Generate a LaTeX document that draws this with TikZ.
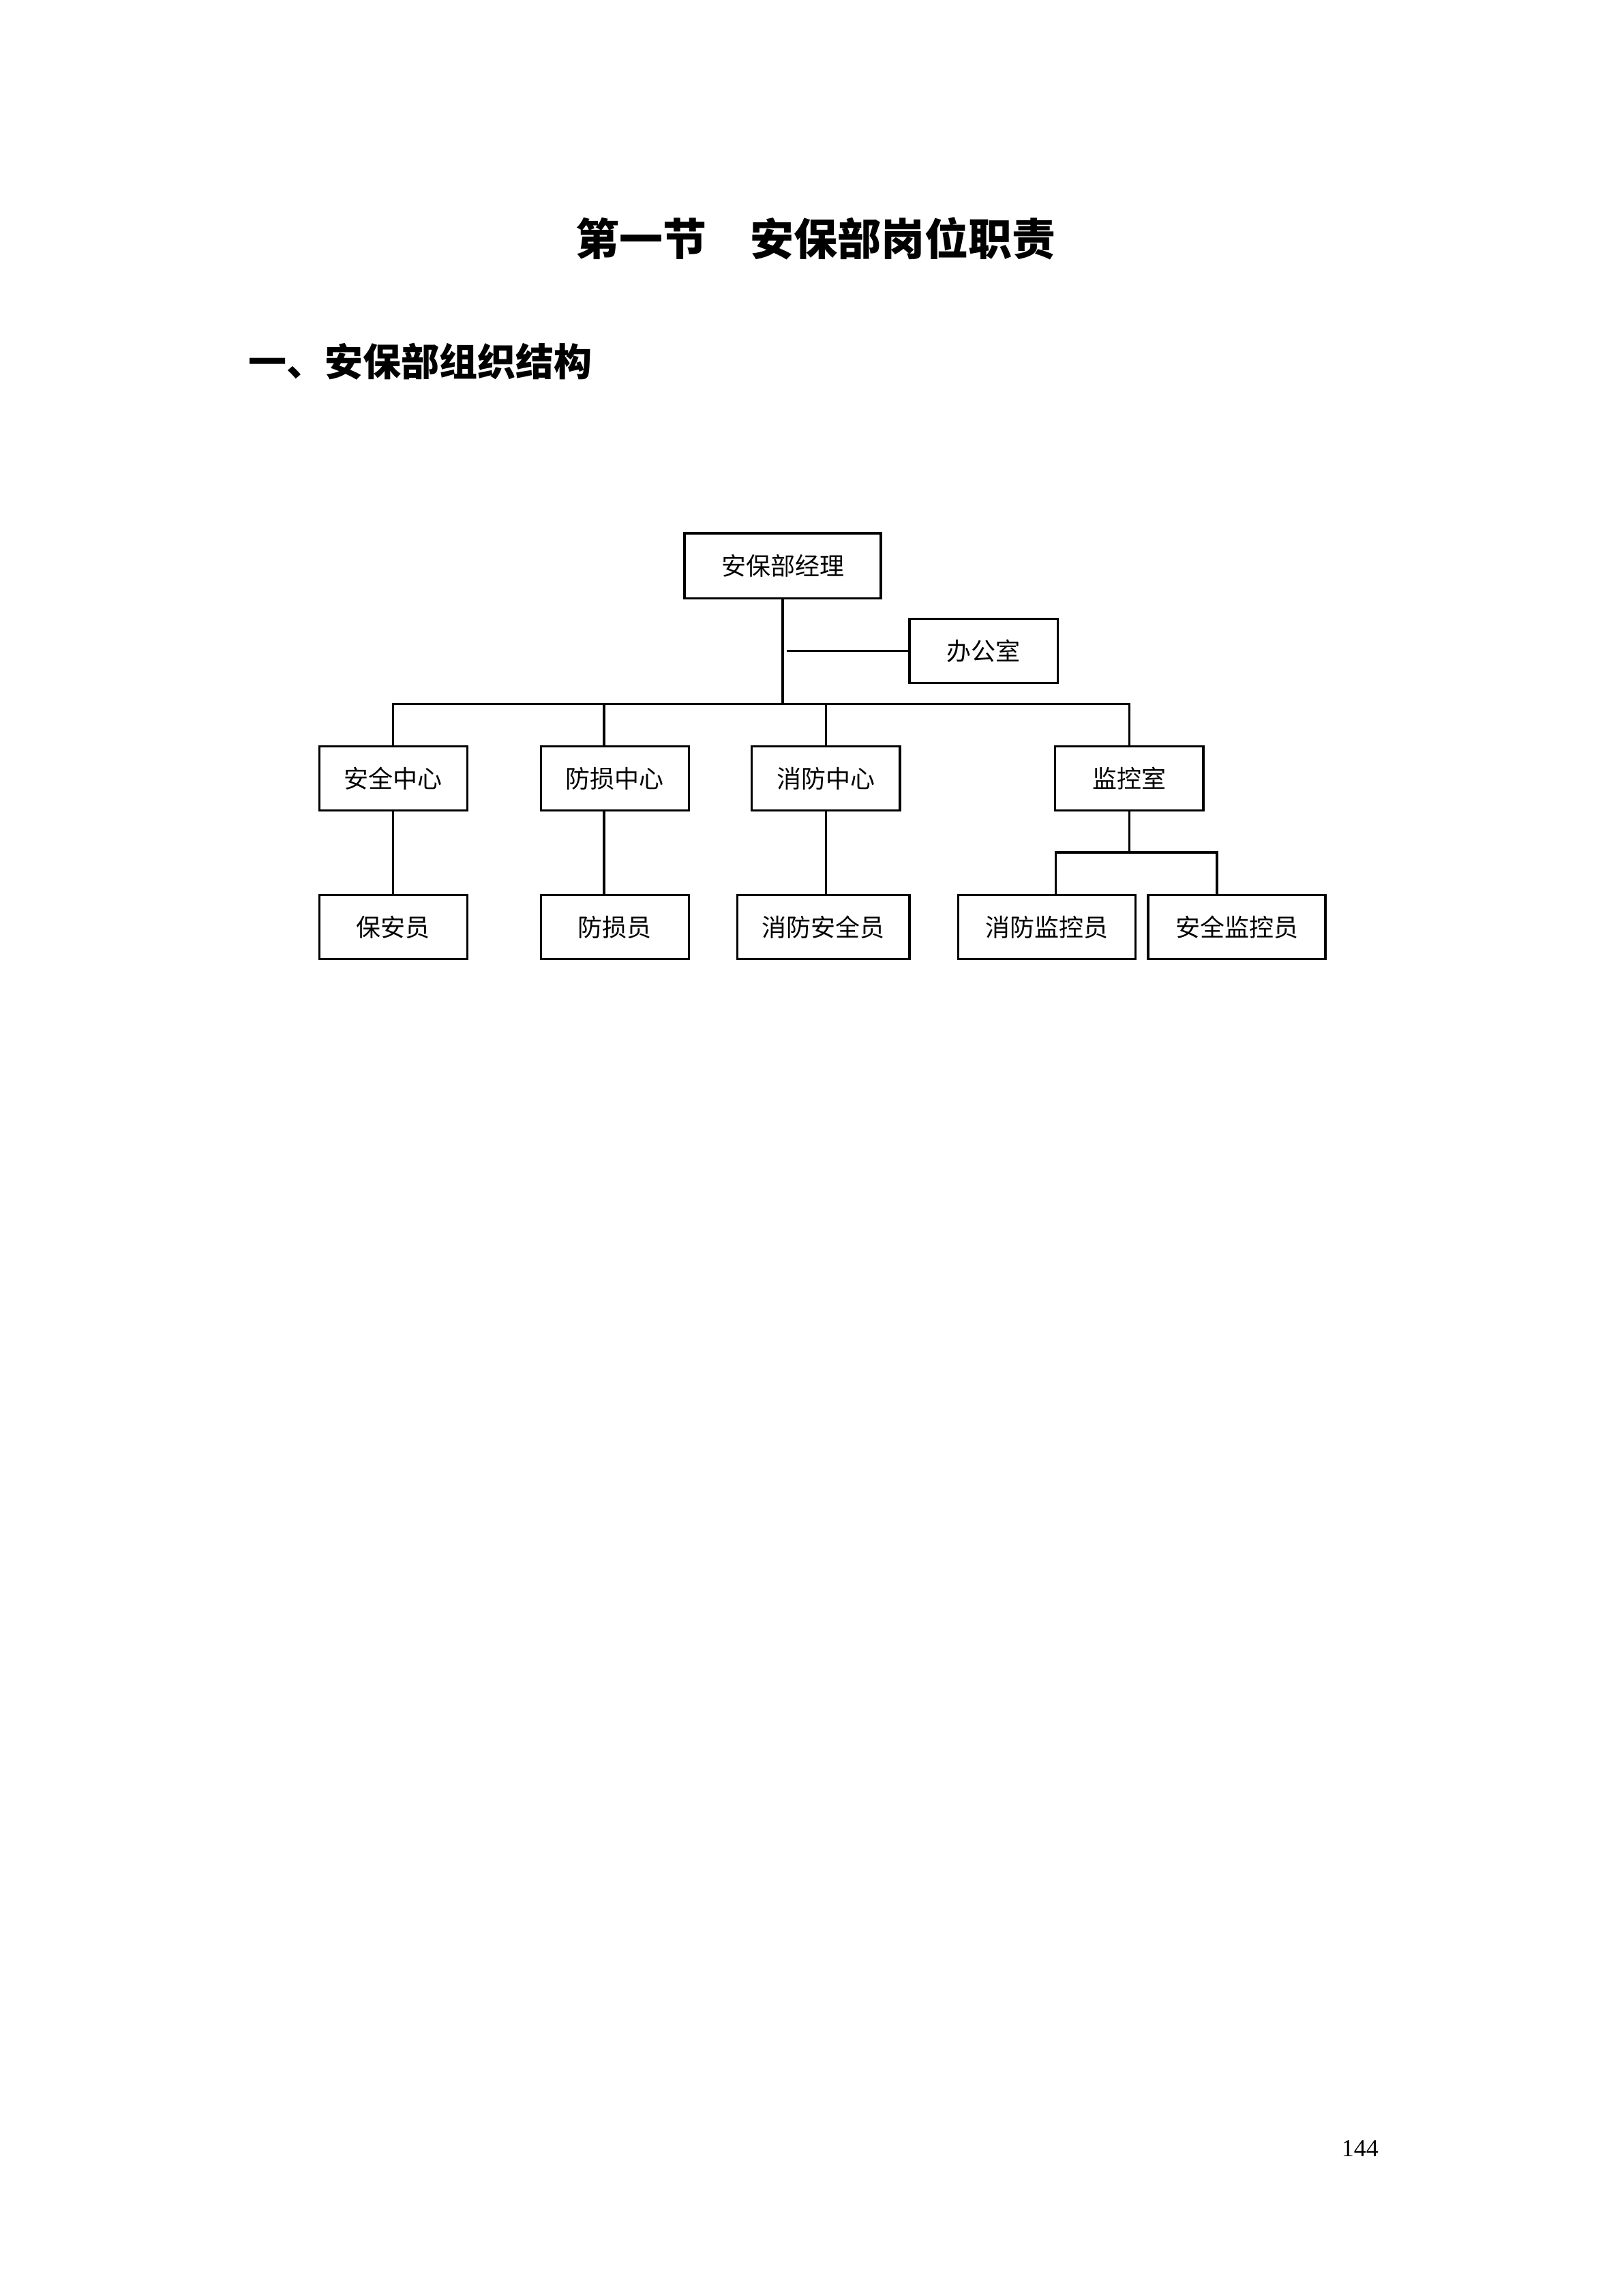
\documentclass[tikz,border=0pt]{standalone}
\usepackage{fontspec}
\setmainfont{Liberation Serif}
\newfontfamily\cjk{Noto Sans CJK SC}
\usetikzlibrary{positioning}
\begin{document}
\begin{tikzpicture}[x=1pt,y=-1pt,line width=0.8pt,line join=miter,
	box/.style={draw,inner sep=0pt,minimum height=23.5pt,minimum width=54.3pt,font=\cjk\fontsize{9pt}{9pt}\selectfont},
	widebox/.style={box,minimum width=65pt}]
				\useasboundingbox (0,0) rectangle (595.25,841.75);
				\node[anchor=base west,inner sep=0pt,font=\cjk\bfseries\fontsize{16pt}{16pt}\selectfont] (title) at (210.8,93.6) {第一节　安保部岗位职责};
				\node[anchor=base west,inner sep=0pt,font=\cjk\bfseries\fontsize{14pt}{14pt}\selectfont] (head) at (90.8,137.8) {一、安保部组织结构};
				% top
				\node[box,minimum width=72pt,minimum height=23.8pt] (jingli) at (287,207.4) {安保部经理};
				\node[box] (office) at (360.65,238.65) {办公室};
				% centres
				\node[box] (anquan) at (144.2,285.35) {安全中心};
				\node[box] (fangsun) at (225.45,285.35) {防损中心};
				\node[box] (xiaofang) at (302.85,285.35) {消防中心};
				\node[box] (jiankong) at (414.1,285.35) {监控室};
				% staff
				\node[box] (baoan) at (144.2,339.9) {保安员};
				\node[box] (fangsunyuan) at (225.45,339.9) {防损员};
				\node[box,minimum width=63.2pt] (xfaq) at (301.9,339.9) {消防安全员};
				\node[widebox] (xfjk) at (383.95,339.9) {消防监控员};
				\node[widebox] (aqjk) at (453.5,339.9) {安全监控员};
				\node[anchor=base,font=\fontsize{9pt}{9pt}\selectfont] (page) at (498.7,790.5) {144};
				\coordinate (bus) at (0,258.1);
				\coordinate (fs) at (221.5,0);
				\coordinate (jl) at (387.1,312.5);
				\coordinate (jr) at (446.25,312.5);
				\draw (jingli.south) -- (jingli.south |- bus);
				\draw ([xshift=1.4pt]jingli.south |- office.west) -- (office.west);
				\draw (anquan.north) -- (anquan.north |- bus) -- (jiankong.north |- bus) -- (jiankong.north);
				\draw (fs |- bus) -- (fs |- fangsun.north);
				\draw (xiaofang.north) -- (xiaofang.north |- bus);
				\draw (anquan.south) -- (baoan.north);
				\draw (fs |- fangsun.south) -- (fs |- fangsunyuan.north);
				\draw (xiaofang.south) -- (xiaofang.south |- xfaq.north);
				\draw (jiankong.south) -- (jiankong.south |- jl);
				\draw (jl |- xfjk.north) -- (jl) -- (jr) -- (jr |- aqjk.north);
			\end{tikzpicture}
\end{document}
